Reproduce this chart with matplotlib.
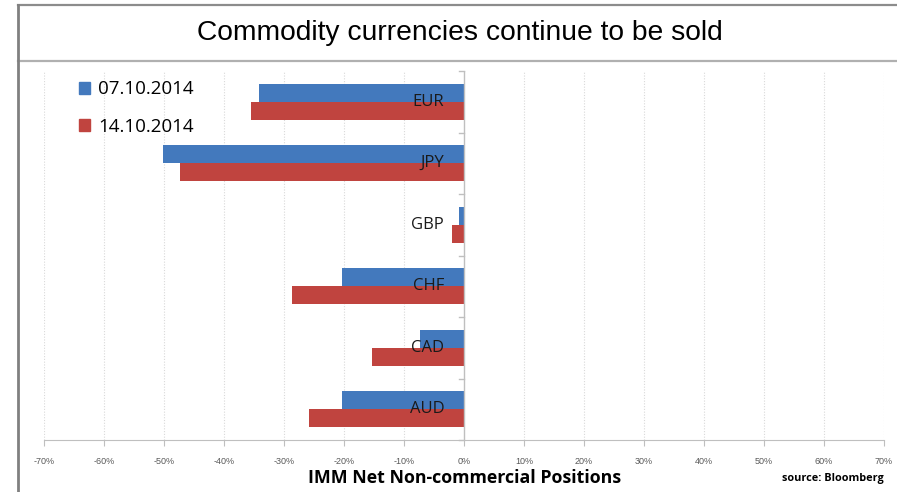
import numpy as np
import matplotlib
matplotlib.use('Agg')
import matplotlib.pyplot as plt
from matplotlib.patches import Patch
from matplotlib.lines import Line2D

# IMM net non-commercial positions, %
currencies = ['EUR', 'JPY', 'GBP', 'CHF', 'CAD', 'AUD']
week1_label = '07.10.2014'
week2_label = '14.10.2014'
week1 = [-34.2, -50.2, -0.8, -20.4, -7.3, -20.3]
week2 = [-35.5, -47.3, -2.0, -28.6, -15.4, -25.9]
xticks = list(range(-70, 71, 10))

BLUE = '#4379bd'
RED = '#c0443f'

fig = plt.figure(figsize=(8.97, 4.92), dpi=100)
fig.patch.set_facecolor('white')

W, H = 897, 492
ax = fig.add_axes([44 / W, (H - 440) / H, (884 - 44) / W, (440 - 71) / H])

y = np.arange(len(currencies))
bh = 0.29
ax.barh(y - bh / 2, week1, height=bh, color=BLUE, zorder=3)
ax.barh(y + bh / 2, week2, height=bh, color=RED, zorder=3)

ax.set_ylim(len(currencies) - 0.5, -0.5)
ax.set_xlim(-70, 70)
ax.set_xticks(xticks)
ax.set_xticklabels([f'{t}%' for t in xticks], fontsize=6.5, color='#595959',
                   family='Liberation Sans')
ax.set_yticks([])

# dotted vertical gridlines
for t in xticks:
    if t != 0:
        ax.axvline(t, color='#d9d9d9', lw=0.8, ls=(0, (1, 1.5)), zorder=1)

for s in ['left', 'right', 'top']:
    ax.spines[s].set_visible(False)
ax.spines['bottom'].set_color('#bfbfbf')
ax.tick_params(axis='x', length=4, color='#bfbfbf', pad=8)

# category axis sits at zero
ax.axvline(0, color='#bfbfbf', lw=1, zorder=4)
for b in np.arange(-0.5, len(currencies), 1.0):
    ax.plot([-0.8, 0], [b, b], color='#bfbfbf', lw=1, zorder=4, clip_on=False)

for yi, c in zip(y, currencies):
    ax.text(-3.3, yi, c, ha='right', va='center', fontsize=12,
            family='Open Sans', color='#1a1a1a', zorder=5)

handles = [Patch(color=BLUE, label=week1_label), Patch(color=RED, label=week2_label)]
leg = ax.legend(handles=handles, loc='upper left', bbox_to_anchor=(0.033, 0.995),
                frameon=False, prop={'family': 'Open Sans', 'size': 13.5},
                handlelength=0.6, handleheight=0.6, handletextpad=0.4,
                labelspacing=1.05, borderaxespad=0)

# title box
fig.text(0.513, 1 - 33 / H, 'Commodity currencies continue to be sold',
         ha='center', va='center', fontsize=20.3, family='Liberation Sans')
fig.add_artist(Line2D([18 / W, 1], [1 - 5 / H, 1 - 5 / H], color='#8c8c8c', lw=1.6))
fig.add_artist(Line2D([18 / W, 1], [1 - 61 / H, 1 - 61 / H], color='#b0b0b0', lw=1.6))
fig.add_artist(Line2D([18 / W, 18 / W], [0, 1 - 5 / H], color='#808080', lw=2))

fig.text(465 / W, 1 - 478 / H, 'IMM Net Non-commercial Positions', ha='center',
         va='center', fontsize=12.8, fontweight='bold', family='Open Sans')
fig.text(884 / W, 1 - 478 / H, 'source: Bloomberg', ha='right', va='center',
         fontsize=7.8, fontweight='bold', family='Open Sans')

fig.savefig('out.png', dpi=100, facecolor='white')
